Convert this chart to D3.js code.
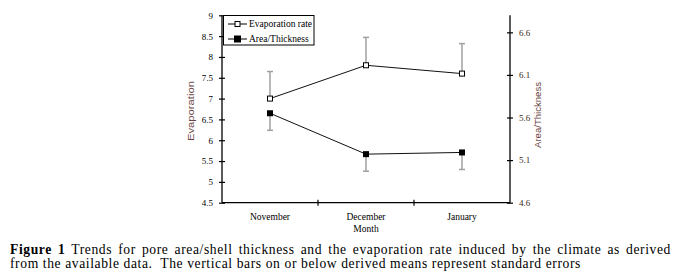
<!DOCTYPE html>
<html>
<head>
<meta charset="utf-8">
<script src="https://cdn.jsdelivr.net/npm/d3@7"></script>
<style>
  body { margin: 0; background: #fff; }
  svg text { font-family: "Liberation Serif", "Times New Roman", serif; }
</style>
</head>
<body>
<svg id="chart" width="676" height="278"></svg>
<script>
const months = ["November", "December", "January"];
const evaporation = [7.0, 7.8, 7.6];
const evapErr = [0.65, 0.67, 0.72];
const areaThickness = [5.65, 5.17, 5.19];
const areaErr = [0.2, 0.2, 0.2];
const leftTicks = [4.5, 5, 5.5, 6, 6.5, 7, 7.5, 8, 8.5, 9];
const rightTicks = [4.6, 5.1, 5.6, 6.1, 6.6];

const svg = d3.select('#chart');
const X0 = 222, X1 = 510, Y0 = 15.3, Y1 = 202.7;

const x = d3.scaleBand().domain(months).range([X0, X1]);
const yL = d3.scaleLinear().domain([4.5, 9]).range([Y1, Y0]);
const yR = d3.scaleLinear().domain([4.6, 6.8]).range([Y1, Y0]);
const cx = m => x(m) + x.bandwidth() / 2;

// axes
const gL = svg.append('g').attr('transform', `translate(${X0},0)`)
  .call(d3.axisLeft(yL).tickValues(leftTicks).tickSize(3).tickPadding(6).tickFormat(d3.format('')));
const gR = svg.append('g').attr('transform', `translate(${X1},0)`)
  .call(d3.axisRight(yR).tickValues(rightTicks).tickSize(3).tickPadding(6).tickFormat(d3.format('.1f')));
[gL, gR].forEach(g => {
  g.select('.domain').attr('d', `M0,${Y0}V${Y1}`).attr('stroke', '#000').attr('stroke-width', 1.3);
  g.selectAll('.tick line').attr('x1', -3).attr('x2', 3).attr('stroke', '#000').attr('stroke-width', 1.2);
  g.selectAll('.tick text').attr('font-size', 9).attr('font-family', '"Liberation Serif", serif');
});
gR.selectAll('.tick text').attr('fill', '#3a2a20');

// x axis: line with ticks at band boundaries
const gX = svg.append('g');
gX.append('line').attr('x1', X0).attr('x2', X1).attr('y1', Y1).attr('y2', Y1)
  .attr('stroke', '#000').attr('stroke-width', 1.3);
gX.selectAll('line.t').data(months.slice(1)).join('line').attr('class', 't')
  .attr('x1', d => x(d)).attr('x2', d => x(d)).attr('y1', Y1 - 3).attr('y2', Y1 + 3)
  .attr('stroke', '#000').attr('stroke-width', 1.2);
gX.selectAll('text').data(months).join('text')
  .attr('x', d => cx(d)).attr('y', 220).attr('text-anchor', 'middle')
  .attr('font-size', 9.5).text(d => d);
svg.append('text').attr('x', cx(months[1])).attr('y', 231.5).attr('text-anchor', 'middle')
  .attr('font-size', 9.5).text('Month');

// axis titles
svg.append('text').attr('transform', 'translate(194,111) rotate(-90)')
  .attr('text-anchor', 'middle').attr('font-size', 8.5)
  .style('font-family', '"Liberation Sans", Arial, sans-serif')
  .attr('textLength', 60).attr('lengthAdjust', 'spacingAndGlyphs')
  .attr('fill', '#6a4444').text('Evaporation');
svg.append('text').attr('transform', 'translate(541,115) rotate(-90)')
  .attr('text-anchor', 'middle').attr('font-size', 8.5)
  .style('font-family', '"Liberation Sans", Arial, sans-serif')
  .attr('textLength', 66).attr('lengthAdjust', 'spacingAndGlyphs')
  .attr('fill', '#6a4444').text('Area/Thickness');

// error bars
const errCol = '#a0a0a0';
function errBars(vals, errs, y, dir) {
  const g = svg.append('g').attr('stroke', errCol).attr('stroke-width', 1.5);
  months.forEach((m, i) => {
    const end = vals[i] + dir * errs[i];
    g.append('line').attr('x1', cx(m)).attr('x2', cx(m)).attr('y1', y(vals[i])).attr('y2', y(end));
    g.append('line').attr('x1', cx(m) - 3).attr('x2', cx(m) + 3).attr('y1', y(end)).attr('y2', y(end));
  });
}
errBars(evaporation, evapErr, yL, 1);
errBars(areaThickness, areaErr, yR, -1);

// lines
const lineL = d3.line().x((d, i) => cx(months[i])).y(d => yL(d));
const lineR = d3.line().x((d, i) => cx(months[i])).y(d => yR(d));
svg.append('path').attr('d', lineL(evaporation)).attr('fill', 'none').attr('stroke', '#111').attr('stroke-width', 1);
svg.append('path').attr('d', lineR(areaThickness)).attr('fill', 'none').attr('stroke', '#111').attr('stroke-width', 1);

// markers
const S = 5;
svg.selectAll('rect.ev').data(evaporation).join('rect').attr('class', 'ev')
  .attr('x', (d, i) => cx(months[i]) - S / 2).attr('y', d => yL(d) - S / 2)
  .attr('width', S).attr('height', S).attr('fill', '#fff').attr('stroke', '#000').attr('stroke-width', 1);
svg.selectAll('rect.at').data(areaThickness).join('rect').attr('class', 'at')
  .attr('x', (d, i) => cx(months[i]) - 3).attr('y', d => yR(d) - 3)
  .attr('width', 6).attr('height', 6).attr('fill', '#000');

// legend
const lg = svg.append('g');
lg.append('rect').attr('x', 223.5).attr('y', 15.5).attr('width', 90.5).attr('height', 29.5)
  .attr('fill', '#fff').attr('stroke', '#000').attr('stroke-width', 1);
[['Evaporation rate', 24, false], ['Area/Thickness', 39, true]].forEach(([lab, ly, filled]) => {
  lg.append('line').attr('x1', 228).attr('x2', 247).attr('y1', ly).attr('y2', ly).attr('stroke', '#000');
  lg.append('rect').attr('x', 237.5 - (filled ? 3 : 2.5)).attr('y', ly - (filled ? 3 : 2.5))
    .attr('width', filled ? 6 : 5).attr('height', filled ? 6 : 5)
    .attr('fill', filled ? '#000' : '#fff').attr('stroke', '#000');
  lg.append('text').attr('x', 249).attr('y', ly + 3.3).attr('font-size', 9.5).text(lab);
});

// caption: line 2 fitted to its width in the figure, line 1 justified
const cap = svg.append('g').attr('font-size', 13.6);
const l2 = cap.append('text').attr('x', 10).attr('y', 267.5).attr('xml:space', 'preserve')
  .text('from the available data.  The vertical bars on or below derived means represent standard errors');
const n2 = l2.node().getComputedTextLength();
const ls = (581 - 10 - n2) / l2.text().length;
l2.attr('letter-spacing', ls);
const l1 = cap.append('text').attr('x', 10).attr('y', 254).attr('letter-spacing', ls);
l1.append('tspan').attr('font-weight', 'bold').text('Figure 1');
l1.append('tspan').text(' Trends for pore area/shell thickness and the evaporation rate induced by the climate as derived');
const natural = l1.node().getComputedTextLength();
const gaps = l1.text().split(' ').length - 1;
l1.attr('word-spacing', Math.max(0, (671 - 10 - natural) / gaps));
</script>
</body>
</html>
